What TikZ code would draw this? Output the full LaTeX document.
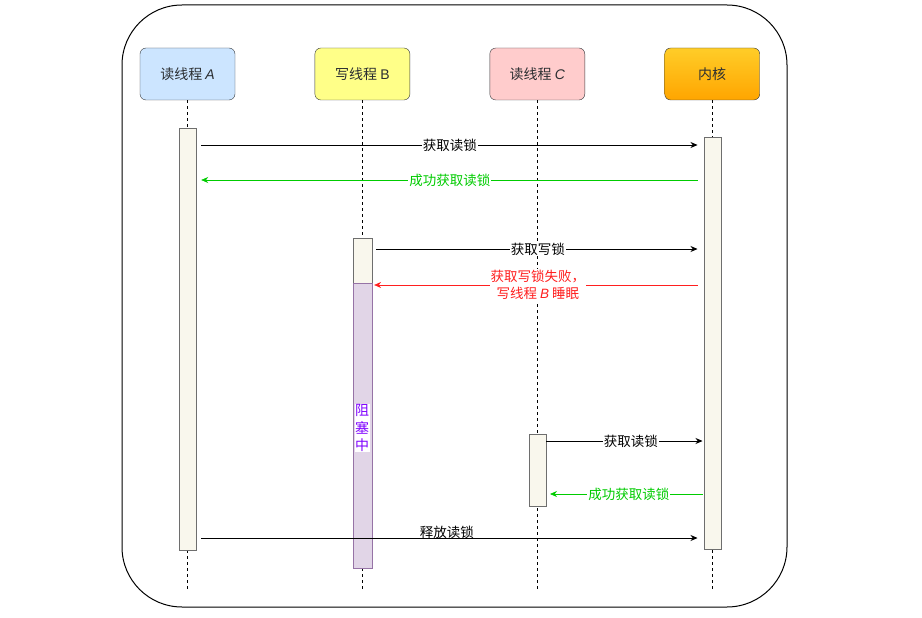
\documentclass[tikz,border=0pt]{standalone}
\usepackage{fontspec}
\setmainfont{Noto Sans CJK SC}
\newfontfamily\latinfont{Liberation Sans}
\usetikzlibrary{arrows.meta,positioning,calc}
\definecolor{LineGray}{HTML}{36393D}
\definecolor{HeadBlue}{HTML}{CCE5FF}
\definecolor{HeadYellow}{HTML}{FFFF88}
\definecolor{HeadRed}{HTML}{FFCCCC}
\definecolor{HeadGoldTop}{HTML}{FFCD28}
\definecolor{HeadGoldBot}{HTML}{FFA500}
\definecolor{ActFill}{HTML}{F9F7ED}
\definecolor{ActLine}{HTML}{6E6E6E}
\definecolor{WaitFill}{HTML}{E1D5E7}
\definecolor{WaitLine}{HTML}{9673A6}
\definecolor{WaitText}{HTML}{7F00FF}
\definecolor{OkGreen}{HTML}{00CC00}
\definecolor{FailRed}{HTML}{FF1F1F}
\tikzset{
  head/.style={draw=LineGray,rounded corners=6pt,minimum width=95pt,minimum height=52pt,
               inner sep=0pt,text=LineGray!80!black,font=\fontsize{14}{16}\selectfont},
  bluehead/.style={head,fill=HeadBlue},
  yellowhead/.style={head,fill=HeadYellow},
  redhead/.style={head,fill=HeadRed},
  goldhead/.style={head,top color=HeadGoldTop,bottom color=HeadGoldBot},
  life/.style={draw=black,dash pattern=on 3pt off 3pt,line width=0.7pt},
  act/.style={draw=ActLine,fill=ActFill,minimum width=17pt,inner sep=0pt},
  waitbar/.style={draw=WaitLine,fill=WaitFill,minimum width=19pt,inner sep=0pt},
  flow/.style={-{Stealth[length=7pt,width=6pt]},draw=black,line width=0.7pt},
  okflow/.style={flow,draw=OkGreen},
  failflow/.style={flow,draw=FailRed},
  msg/.style={fill=white,inner sep=1pt,font=\fontsize{13.5}{16}\selectfont}
}
\begin{document}
\begin{tikzpicture}[x=1pt,y=-1pt]
  \useasboundingbox (0,0) rectangle (922,618);
  \draw[line width=1pt,rounded corners=60pt] (122,5) rectangle (787,607);

  \node[bluehead] (thrA) at (187.5,74) {读线程 {\latinfont\itshape A}};
  \node[yellowhead,right=79.5pt of thrA] (thrB) {写线程 {\latinfont B}};
  \node[redhead,right=79.5pt of thrB] (thrC) {读线程 {\latinfont\itshape C}};
  \node[goldhead,right=79.5pt of thrC] (kern) {内核};

  % lifelines
  \foreach \t in {thrA,thrB,thrC,kern}
    \draw[life] (\t.south) -- (\t.south |- 0,590);

  % activations
  \node[act,minimum height=422pt] (actA) at (thrA |- 0,339) {};
  \node[act,minimum height=412pt] (actK) at (kern |- 0,343) {};
  \node[act,minimum width=19pt,minimum height=45pt] (actB) at (thrB |- 0,260.5) {};
  \node[waitbar,minimum height=285pt] (waitB) at (thrB |- 0,425.5) {};
  \node[act,minimum height=72pt] (actC) at (thrC |- 0,470) {};
  \node[fill=white,inner sep=0.5pt,align=center,text=WaitText,
        font=\fontsize{14}{17.5}\selectfont] (blk) at (362,428) {阻\\塞\\中};

  % message rows
  \coordinate (r1) at (0,145);
  \coordinate (r2) at (0,180);
  \coordinate (r3) at (0,249);
  \coordinate (r4) at (0,285);
  \coordinate (r5) at (0,441);
  \coordinate (r6) at (0,494);
  \coordinate (r7) at (0,538);

  \draw[flow,shorten <=5pt,shorten >=6pt] (actA.east |- r1) -- node[msg]{获取读锁} (actK.west |- r1);
  \draw[okflow,shorten <=6pt,shorten >=5pt] (actK.west |- r2) -- node[msg,text=OkGreen]{成功获取读锁} (actA.east |- r2);
  \draw[flow,shorten <=4pt,shorten >=6pt] (actB.east |- r3) -- node[msg]{获取写锁} (actK.west |- r3);
  \draw[failflow,shorten <=6pt,shorten >=2pt] (actK.west |- r4) -- node[msg,align=center,text=FailRed,
        font=\fontsize{13.5}{17}\selectfont]{获取写锁失败，\\写线程 {\latinfont\itshape B} 睡眠} (waitB.east |- r4);
  \draw[flow,shorten >=1pt] (actC.east |- r5) -- node[msg,xshift=6pt]{获取读锁} (actK.west |- r5);
  \draw[okflow,shorten <=1pt,shorten >=4pt] (actK.west |- r6) -- node[msg,text=OkGreen,xshift=4pt]{成功获取读锁} (actC.east |- r6);
  \draw[flow,shorten <=5pt,shorten >=6pt] (actA.east |- r7) -- node[msg,fill=none,above=-2pt,xshift=-3pt]{释放读锁} (actK.west |- r7);
\end{tikzpicture}
\end{document}
